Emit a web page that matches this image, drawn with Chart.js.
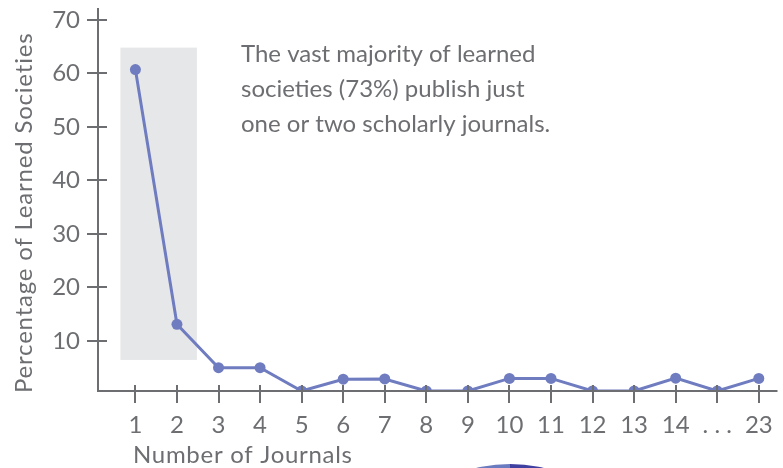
<!DOCTYPE html>
<html>
<head>
<meta charset="utf-8">
<script src="https://cdn.jsdelivr.net/npm/chart.js@4"></script>
<style>
  html, body { margin: 0; padding: 0; background: #fff; }
  #wrap { width: 783px; height: 468px; }
</style>
</head>
<body>
<div id="wrap"><canvas id="grafico"></canvas></div>
<script>
const labels = ["1", "2", "3", "4", "5", "6", "7", "8", "9", "10", "11", "12", "13", "14", ". . .", "23"];
const valores = [60.7, 13.1, 5.0, 5.0, 0.65, 2.85, 2.9, 0.65, 0.65, 3.0, 3.0, 0.65, 0.65, 3.05, 0.65, 3.0];
const yTicks = [10, 20, 30, 40, 50, 60, 70];
const nota = [
  "The vast majority of learned",
  "societies (73%) publish just",
  "one or two scholarly journals."
];
const tituloX = "Number of Journals";
const tituloY = "Percentage of Learned Societies";

const cinza = "#6d6e71";
const azul = "#6f7cc0";
const fonte = "Lato";

const ctx = document.getElementById("grafico");

// escreve texto esticado ate uma largura dada (a fonte original e mais larga)
function textoLargo(c, texto, x, y, largura) {
  c.letterSpacing = "0px";
  const w = c.measureText(texto).width;
  const esp = Math.max(0, (largura - w) / (texto.length - 1));
  c.letterSpacing = esp + "px";
  c.fillText(texto, x, y);
  c.letterSpacing = "0px";
}

const extras = {
  id: "extras",
  beforeDatasetsDraw(chart) {
    const { ctx, scales: { x, y } } = chart;
    ctx.save();
    ctx.fillStyle = "#e6e7e8";
    const x0 = x.getPixelForValue(-0.36);
    const x1 = x.getPixelForValue(1.48);
    const y0 = y.getPixelForValue(64.8);
    const y1 = y.getPixelForValue(6.45);
    ctx.fillRect(x0, y0, x1 - x0, y1 - y0);
    ctx.restore();
  },
  afterDraw(chart) {
    const { ctx, chartArea, scales: { x, y } } = chart;
    ctx.save();
    ctx.strokeStyle = cinza;
    ctx.lineWidth = 2;
    // eixos
    ctx.beginPath();
    ctx.moveTo(chartArea.left, chartArea.top);
    ctx.lineTo(chartArea.left, chartArea.bottom);
    ctx.lineTo(chartArea.right, chartArea.bottom);
    ctx.stroke();
    // ticks cruzando os eixos
    ctx.beginPath();
    yTicks.forEach(function (v) {
      const py = Math.round(y.getPixelForValue(v));
      ctx.moveTo(chartArea.left - 11, py);
      ctx.lineTo(chartArea.left + 9, py);
    });
    labels.forEach(function (l, i) {
      const px = Math.round(x.getPixelForValue(i));
      ctx.moveTo(px, chartArea.bottom - 6);
      ctx.lineTo(px, chartArea.bottom + 12);
    });
    ctx.stroke();

    ctx.fillStyle = cinza;
    ctx.textBaseline = "alphabetic";
    ctx.textAlign = "left";
    ctx.font = "24px " + fonte;
    nota.forEach(function (linha, i) {
      ctx.fillText(linha, 241, 62 + i * 35);
    });

    textoLargo(ctx, tituloX, 133, 463, 219);

    ctx.save();
    ctx.translate(32, 393);
    ctx.rotate(-Math.PI / 2);
    textoLargo(ctx, tituloY, 0, 0, 360);
    ctx.restore();

    // pedaco de circulo no rodape
    ctx.beginPath();
    ctx.moveTo(510, 610);
    ctx.arc(510, 610, 146, Math.PI, Math.PI * 1.5);
    ctx.closePath();
    ctx.fillStyle = "#6b7bc0";
    ctx.fill();
    ctx.beginPath();
    ctx.moveTo(510, 610);
    ctx.arc(510, 610, 146, Math.PI * 1.5, Math.PI * 2);
    ctx.closePath();
    ctx.fillStyle = "#3f40a0";
    ctx.fill();
    ctx.restore();
  }
};

const chart = new Chart(ctx, {
  type: "line",
  data: {
    datasets: [
      {
        label: "",
        data: valores.map(function (v, i) { return { x: i, y: v }; }),
        borderColor: azul,
        backgroundColor: azul,
        borderWidth: 3,
        pointRadius: 5.5,
        pointHoverRadius: 5.5,
        pointBorderWidth: 0,
        tension: 0,
      },
    ],
  },
  options: {
    responsive: true,
    maintainAspectRatio: false,
    animation: false,
    layout: { padding: { top: 8, left: 0, right: 0, bottom: 0 } },
    scales: {
      x: {
        type: "linear",
        min: -0.9,
        max: 15.45,
        grid: { display: false, drawTicks: false },
        border: { display: false },
        afterBuildTicks: function (scale) {
          scale.ticks = labels.map(function (l, i) { return { value: i }; });
        },
        afterFit: function (scale) {
          scale.height = 77;
          scale.paddingLeft = 0;
          scale.paddingRight = 0;
        },
        ticks: {
          autoSkip: false,
          maxRotation: 0,
          padding: 20,
          color: cinza,
          font: { family: fonte, size: 24 },
          callback: function (v) { return labels[v]; },
        },
      },
      y: {
        min: 0.65,
        max: 72.2,
        grid: { display: false, drawTicks: false },
        border: { display: false },
        afterBuildTicks: function (scale) {
          scale.ticks = yTicks.map(function (v) { return { value: v }; });
        },
        afterFit: function (scale) {
          scale.width = 98;
          scale.paddingTop = 0;
          scale.paddingBottom = 0;
        },
        ticks: {
          padding: 18,
          color: cinza,
          font: { family: fonte, size: 24 },
        },
      },
    },
    plugins: {
      legend: { display: false },
      tooltip: { enabled: false },
    },
  },
  plugins: [extras],
});
</script>
</body>
</html>
